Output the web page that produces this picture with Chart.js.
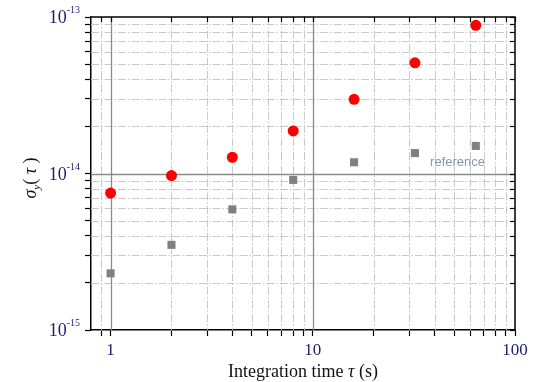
<!DOCTYPE html>
<html>
<head>
<meta charset="utf-8">
<script src="https://cdn.jsdelivr.net/npm/chart.js@4.4.1/dist/chart.umd.min.js"></script>
<style>
  html, body { margin: 0; padding: 0; background: #fff; }
  canvas { display: block; }
</style>
</head>
<body>
<canvas id="adevChart" width="542" height="382"></canvas>
<script>
// integration times (s)
const tau = [1, 2, 4, 8, 16, 32, 64];
// measured stability (red circles)
const sigmaMeas = [7.5e-15, 9.7e-15, 1.27e-14, 1.87e-14, 2.98e-14, 5.1e-14, 8.85e-14];
// reference (grey squares)
const sigmaRef = [2.3e-15, 3.5e-15, 5.9e-15, 9.1e-15, 1.18e-14, 1.35e-14, 1.5e-14];

const xTicks = [0.9, 1, 2, 3, 4, 5, 6, 7, 8, 9, 10, 20, 30, 40, 50, 60, 70, 80, 90, 100];
const xMajor = [1, 10, 100];
const yTicks = [1e-15, 2e-15, 3e-15, 4e-15, 5e-15, 6e-15, 7e-15, 8e-15, 9e-15,
                1e-14, 2e-14, 3e-14, 4e-14, 5e-14, 6e-14, 7e-14, 8e-14, 9e-14, 1e-13];
const yMajor = [1e-15, 1e-14, 1e-13];
const yMajorLabels = ["-15", "-14", "-13"];
const refLabel = "reference";

const SERIF = '"Liberation Serif", "DejaVu Serif", serif';
const LABEL_COLOR = "#1e1e6c";

function isMajor(v, majors) {
    return majors.some(m => Math.abs(v - m) / m < 1e-6);
}

const decorPlugin = {
    id: "decor",
    beforeDatasetsDraw(chart) {
        const { ctx, chartArea: a, scales } = chart;
        ctx.save();
        // minor grid, dash-dot
        ctx.lineWidth = 1;
        ctx.strokeStyle = "#c9c9c9";
        ctx.setLineDash([8, 2, 1.5, 2]);
        xTicks.forEach(v => {
            if (isMajor(v, xMajor)) return;
            const px = Math.round(scales.x.getPixelForValue(v)) + 0.5;
            ctx.beginPath(); ctx.moveTo(px, a.top); ctx.lineTo(px, a.bottom); ctx.stroke();
        });
        yTicks.forEach(v => {
            if (isMajor(v, yMajor)) return;
            const py = Math.round(scales.y.getPixelForValue(v)) + 0.5;
            ctx.beginPath(); ctx.moveTo(a.left, py); ctx.lineTo(a.right, py); ctx.stroke();
        });
        // major grid, solid
        ctx.setLineDash([]);
        ctx.strokeStyle = "#8a8a8a";
        ctx.lineWidth = 1.3;
        xMajor.forEach(v => {
            const px = Math.round(scales.x.getPixelForValue(v)) + 0.5;
            if (px <= a.left + 1 || px >= a.right - 1) return;
            ctx.beginPath(); ctx.moveTo(px, a.top); ctx.lineTo(px, a.bottom); ctx.stroke();
        });
        yMajor.forEach(v => {
            const py = Math.round(scales.y.getPixelForValue(v)) + 0.5;
            if (py <= a.top + 1 || py >= a.bottom - 1) return;
            ctx.beginPath(); ctx.moveTo(a.left, py); ctx.lineTo(a.right, py); ctx.stroke();
        });
        ctx.restore();
    },
    afterDraw(chart) {
        const { ctx, chartArea: a, scales } = chart;
        ctx.save();
        // top and right frame with inward ticks
        ctx.strokeStyle = "#000";
        ctx.lineWidth = 1.5;
        ctx.beginPath();
        ctx.moveTo(a.left, a.top); ctx.lineTo(a.right, a.top); ctx.lineTo(a.right, a.bottom);
        ctx.stroke();
        ctx.lineWidth = 1.2;
        xTicks.forEach(v => {
            const px = Math.round(scales.x.getPixelForValue(v)) + 0.5;
            ctx.beginPath(); ctx.moveTo(px, a.top); ctx.lineTo(px, a.top + 5); ctx.stroke();
        });
        yTicks.forEach(v => {
            const py = Math.round(scales.y.getPixelForValue(v)) + 0.5;
            ctx.beginPath(); ctx.moveTo(a.right, py); ctx.lineTo(a.right - 5, py); ctx.stroke();
        });

        // y tick labels 10^n
        ctx.fillStyle = LABEL_COLOR;
        ctx.textBaseline = "alphabetic";
        yMajor.forEach((v, i) => {
            const py = scales.y.getPixelForValue(v);
            ctx.font = "10px " + SERIF;
            const expW = ctx.measureText(yMajorLabels[i]).width;
            ctx.font = "18px " + SERIF;
            const baseW = ctx.measureText("10").width;
            const right = a.left - 11;
            ctx.textAlign = "left";
            ctx.fillText("10", right - expW - baseW, py + 6);
            ctx.font = "10px " + SERIF;
            ctx.fillText(yMajorLabels[i], right - expW, py - 4);
        });

        // x axis title
        ctx.fillStyle = "#111";
        const p1 = "Integration time ", p3 = " (s)";
        ctx.font = "18px " + SERIF;
        const w1 = ctx.measureText(p1).width, w3 = ctx.measureText(p3).width;
        ctx.font = "italic 18px " + SERIF;
        const w2 = ctx.measureText("\u03c4").width;
        let x0 = (a.left + a.right) / 2 - (w1 + w2 + w3) / 2;
        const yb = 377;
        ctx.textAlign = "left";
        ctx.font = "18px " + SERIF;
        ctx.fillText(p1, x0, yb);
        ctx.font = "italic 18px " + SERIF;
        ctx.fillText("\u03c4", x0 + w1, yb);
        ctx.font = "18px " + SERIF;
        ctx.fillText(p3, x0 + w1 + w2, yb);

        // y axis title: sigma_y(tau)
        ctx.save();
        ctx.translate(36, 178);
        ctx.rotate(-Math.PI / 2);
        const parts = [
            { t: "\u03c3", f: "italic 18px ", dy: 0 },
            { t: "y", f: "italic 11px ", dy: 4 },
            { t: "( ", f: "18px ", dy: 0 },
            { t: "\u03c4", f: "italic 18px ", dy: 0 },
            { t: " )", f: "18px ", dy: 0 }
        ];
        let total = 0;
        parts.forEach(p => { ctx.font = p.f + SERIF; p.w = ctx.measureText(p.t).width; total += p.w; });
        let cx = -total / 2;
        parts.forEach(p => {
            ctx.font = p.f + SERIF;
            ctx.fillText(p.t, cx, p.dy);
            cx += p.w;
        });
        ctx.restore();

        // reference label
        ctx.fillStyle = "#8796ad";
        ctx.font = "13px \"Liberation Sans\", Arial, sans-serif";
        ctx.textAlign = "center";
        ctx.textBaseline = "middle";
        ctx.fillText(refLabel, scales.x.getPixelForValue(52), scales.y.getPixelForValue(1.17e-14));
        ctx.restore();
    }
};

const ctx = document.getElementById("adevChart").getContext("2d");
new Chart(ctx, {
    type: "scatter",
    data: {
        datasets: [
            {
                label: "measured",
                data: tau.map((t, i) => ({ x: t, y: sigmaMeas[i] })),
                pointStyle: "circle",
                pointRadius: 5.5,
                pointHoverRadius: 5.5,
                backgroundColor: "#ff0000",
                borderColor: "#ff0000",
                borderWidth: 0
            },
            {
                label: "reference",
                data: tau.map((t, i) => ({ x: t, y: sigmaRef[i] })),
                pointStyle: "rect",
                pointRadius: 5.7,
                pointHoverRadius: 5.7,
                backgroundColor: "#808080",
                borderColor: "#808080",
                borderWidth: 0
            }
        ]
    },
    options: {
        responsive: false,
        animation: false,
        events: [],
        layout: { padding: { top: 17, right: 27, left: 0, bottom: 0 } },
        plugins: { legend: { display: false }, tooltip: { enabled: false } },
        scales: {
            x: {
                type: "logarithmic",
                min: 0.8,
                max: 100,
                afterBuildTicks: scale => { scale.ticks = xTicks.map(v => ({ value: v })); },
                afterFit: scale => { scale.height = 52; },
                ticks: {
                    autoSkip: false,
                    maxRotation: 0,
                    padding: 4,
                    color: LABEL_COLOR,
                    font: { family: SERIF, size: 17 },
                    callback: v => isMajor(v, xMajor) ? String(v) : ""
                },
                grid: { drawOnChartArea: false, tickLength: 6, tickColor: "#000", tickWidth: 1.2 },
                border: { color: "#000", width: 1.5 }
            },
            y: {
                type: "logarithmic",
                min: 1e-15,
                max: 1e-13,
                afterBuildTicks: scale => { scale.ticks = yTicks.map(v => ({ value: v })); },
                afterFit: scale => { scale.width = 91; },
                ticks: { autoSkip: false, callback: () => "" },
                grid: { drawOnChartArea: false, tickLength: 6, tickColor: "#000", tickWidth: 1.2 },
                border: { color: "#000", width: 1.5 }
            }
        }
    },
    plugins: [decorPlugin]
});
</script>
</body>
</html>
